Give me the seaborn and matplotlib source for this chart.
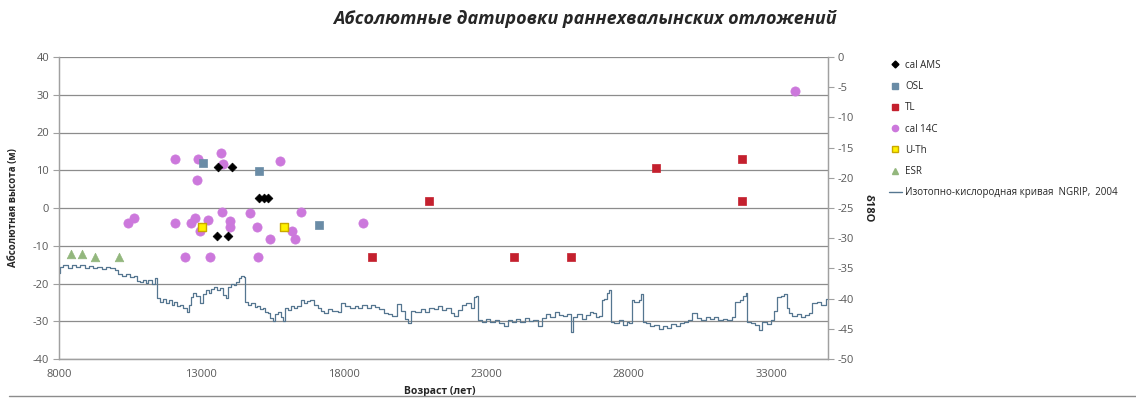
import matplotlib
matplotlib.use("Agg")
import matplotlib.pyplot as plt
import seaborn as sns
import pandas as pd
from matplotlib.lines import Line2D

# ---------------- data ----------------
title = "Абсолютные датировки раннехвалынских отложений"
xlabel = "Возраст (лет)"
ylabel = "Абсолютная высота (м)"
y2label = "δ18O"

ams_age = [13590, 14090, 15010, 15190, 15330, 13530, 13950]
ams_h = [10.9, 10.9, 2.7, 2.7, 2.7, -7.3, -7.3]

osl_age = [13040, 15020, 17140]
osl_h = [11.9, 9.9, -4.6]

tl_age = [19000, 20980, 23990, 25980, 28970, 31980, 31980]
tl_h = [-13.0, 1.9, -13.0, -13.0, 10.5, 13.1, 1.9]

c14_age = [12070, 12880, 13690, 13760, 15760, 12860, 13720, 14720, 16510,
           10630, 10410, 12090, 12650, 12770, 13240, 14010, 13990, 12940,
           14940, 16170, 15400, 16300, 18670, 12420, 13300, 15000, 33830]
c14_h = [13.0, 13.0, 14.6, 11.7, 12.5, 7.4, -1.0, -1.4, -1.0,
         -2.6, -4.0, -4.0, -4.0, -2.6, -3.1, -3.5, -5.0, -6.0,
         -5.0, -6.0, -8.1, -8.1, -4.0, -13.0, -13.0, -13.0, 31.0]

uth_age = [13010, 15910]
uth_h = [-5.0, -5.0]

esr_age = [8410, 8820, 9270, 10110]
esr_h = [-12.2, -12.2, -13.0, -13.0]

ngrip_age = [
    8000, 8040, 8150, 8300, 8450, 8600, 8750, 8900, 9050, 9200, 9350, 9500,
    9650, 9800, 9950, 10080, 10200, 10350, 10500, 10650, 10724, 10850, 10950,
    11050, 11131, 11250, 11366, 11425, 11550, 11650, 11750, 11850, 11951,
    12050, 12150, 12250, 12350, 12477, 12550, 12650, 12710, 12800, 12944,
    13050, 13150, 13250, 13354, 13450, 13550, 13650, 13750, 13850, 13937,
    14050, 14150, 14229, 14320, 14405, 14480, 14545, 14650, 14750, 14872,
    14950, 15050, 15150, 15250, 15339, 15420, 15514, 15600, 15700, 15800,
    15864, 15950, 16050, 16150, 16250, 16350, 16509, 16600, 16700, 16800,
    16950, 17100, 17210, 17300, 17450, 17600, 17794, 17900, 18050, 18200,
    18378, 18500, 18650, 18800, 18963, 19100, 19250, 19400, 19547, 19700,
    19850, 20000, 20132, 20250, 20350, 20500, 20716, 20850, 21000, 21150,
    21301, 21450, 21600, 21750, 21885, 22000, 22150, 22300, 22470, 22580,
    22645, 22704, 22850, 23000, 23150, 23300, 23450, 23639, 23750, 23900,
    24050, 24200, 24350, 24500, 24650, 24808, 24950, 25100, 25250, 25400,
    25550, 25700, 25850, 25974, 26050, 26200, 26350, 26500, 26650, 26734,
    26850, 26950, 27050, 27143, 27230, 27319, 27377, 27500, 27650, 27800,
    27950, 28020, 28120, 28195, 28350, 28450, 28488, 28600, 28750, 28900,
    29072, 29200, 29350, 29500, 29650, 29800, 29950, 30100, 30241, 30400,
    30550, 30700, 30850, 31000, 31150, 31300, 31450, 31644, 31750, 31900,
    32000, 32111, 32170, 32300, 32450, 32579, 32700, 32850, 33000, 33100,
    33200, 33350, 33456, 33560, 33631, 33750, 33900, 34050, 34200, 34333,
    34450, 34600, 34750, 34917, 35000]
ngrip_d18o = [
    -35.8, -34.8, -34.5, -34.9, -34.4, -34.8, -34.5, -34.9, -34.6, -35.0, -34.7, -35.1,
    -34.8, -35.0, -35.3, -36.0, -36.3, -36.0, -36.5, -36.3, -37.1, -37.3, -36.9,
    -37.4, -37.0, -37.5, -36.6, -39.9, -40.5, -40.0, -40.8, -40.3, -41.0,
    -40.6, -41.3, -41.0, -41.6, -42.3, -41.0, -39.8, -39.1, -39.6, -40.8,
    -39.2, -38.6, -39.0, -38.4, -38.0, -38.6, -38.2, -39.4, -39.9, -38.0,
    -37.5, -37.8, -37.2, -36.6, -36.3, -36.5, -40.5, -41.0, -40.7, -41.4,
    -41.2, -41.8, -41.5, -42.2, -42.4, -43.2, -43.7, -42.6, -42.2, -43.0,
    -43.7, -41.6, -41.9, -41.3, -41.6, -41.2, -40.2, -40.8, -40.4, -40.3,
    -41.0, -41.5, -42.0, -42.4, -41.8, -42.0, -42.2, -40.8, -41.2, -41.6,
    -41.3, -41.6, -41.0, -41.5, -41.0, -41.4, -41.8, -42.4, -42.5, -42.9,
    -40.9, -42.0, -43.4, -44.1, -42.0, -42.2, -41.8, -42.3, -41.6, -41.8,
    -41.2, -41.9, -41.5, -42.4, -42.9, -41.9, -41.0, -40.7, -41.5, -39.8,
    -39.5, -43.5, -43.8, -43.3, -43.9, -43.5, -44.0, -44.5, -43.6, -43.9,
    -43.4, -43.8, -43.2, -43.7, -43.5, -44.6, -43.2, -42.6, -43.0, -42.2,
    -42.7, -42.9, -42.5, -45.5, -43.0, -42.5, -43.3, -42.7, -42.2, -42.4,
    -43.0, -42.8, -40.3, -40.0, -39.0, -38.5, -43.8, -44.0, -43.6, -44.3,
    -43.8, -44.0, -40.2, -40.5, -40.2, -39.2, -43.8, -44.0, -44.5, -44.3,
    -45.0, -44.5, -44.8, -44.2, -44.6, -44.0, -43.8, -43.5, -42.4, -43.2,
    -43.6, -43.0, -43.4, -43.1, -43.6, -43.3, -43.5, -43.0, -40.5, -40.2,
    -39.5, -39.1, -43.8, -44.0, -44.4, -45.2, -43.8, -44.2, -43.6, -42.0,
    -39.7, -39.6, -39.2, -41.6, -42.4, -42.8, -42.6, -43.0, -42.7, -42.4,
    -40.8, -40.5, -41.0, -40.0, -40.0]

series_labels = ["cal AMS", "OSL", "TL", "cal 14C", "U-Th", "ESR",
                 "Изотопно-кислородная кривая  NGRIP,  2004"]

x_ticks = [8000, 13000, 18000, 23000, 28000, 33000]
y_ticks = [-40, -30, -20, -10, 0, 10, 20, 30, 40]
y2_ticks = [-50, -45, -40, -35, -30, -25, -20, -15, -10, -5, 0]

# ---------------- style ----------------
sns.set_style("white")
plt.rcParams["font.family"] = ["Open Sans", "DejaVu Sans"]

c_ams = "#000000"
c_osl = "#6A8CA6"
c_tl = "#C4202E"
c_c14 = "#CC78DC"
c_uth = "#FFF200"
c_uth_e = "#C9A800"
c_esr = "#93B77D"
c_line = "#557690"
grey = "#A0A0A0"
tick_c = "#595959"

fig = plt.figure(figsize=(11.36, 3.98), dpi=100)
ax = fig.add_axes([59 / 1136, 1 - 359 / 398, (828 - 59) / 1136, (359 - 57) / 398])
ax2 = ax.twinx()

# NGRIP curve on secondary axis
df_ng = pd.DataFrame({"age": ngrip_age, "d18o": ngrip_d18o})
sns.lineplot(data=df_ng, x="age", y="d18o", ax=ax2, color=c_line, lw=0.9,
             estimator=None, sort=False, drawstyle="steps-post")

def scat(xs, ys, marker, s, fc, ec, lw=0.5):
    sns.scatterplot(x=xs, y=ys, ax=ax, marker=marker, s=s, color=fc,
                    edgecolor=ec, linewidth=lw, zorder=3)

scat(c14_age, c14_h, "o", 44, c_c14, c_c14)
scat(osl_age, osl_h, "s", 32, c_osl, c_osl)
scat(tl_age, tl_h, "s", 32, c_tl, c_tl)
scat(uth_age, uth_h, "s", 34, c_uth, c_uth_e, 1.0)
scat(esr_age, esr_h, "^", 38, c_esr, c_esr)
scat(ams_age, ams_h, "D", 20, c_ams, c_ams)

ax.set_xlim(8000, 35000)
ax.set_ylim(-40, 40)
ax2.set_ylim(-50, 0)
ax.set_xticks(x_ticks)
ax.set_yticks(y_ticks)
ax2.set_yticks(y2_ticks)
ax.set_xticklabels([str(t) for t in x_ticks])
ax.set_yticklabels([str(t) for t in y_ticks])
ax2.set_yticklabels([str(t) for t in y2_ticks])

ax.yaxis.grid(True, color="#8C8C8C", lw=0.9)
ax.xaxis.grid(False)
ax.set_axisbelow(True)

for a in (ax, ax2):
    a.spines["top"].set_visible(False)
    for sp in ("left", "right", "bottom"):
        a.spines[sp].set_color(grey)
        a.spines[sp].set_linewidth(0.9)
    a.tick_params(direction="out", length=4, width=0.8, color=grey,
                  labelsize=8, labelcolor=tick_c, pad=3)

ax.set_xlabel(xlabel, fontsize=7.5, fontweight="bold", color="#262626", labelpad=1)
ax.xaxis.set_label_coords(0.495, -0.09)
ax.set_ylabel(ylabel, fontsize=7, fontweight="bold", color="#262626", labelpad=10)
ax2.set_ylabel(y2label, fontsize=8, fontweight="bold", color="#262626",
               rotation=270, va="center", ha="center")
ax2.yaxis.set_label_coords(1.052, 0.5)

fig.text(0.515, 0.953, title, ha="center", va="center", fontsize=13,
         fontstyle="italic", fontweight="bold", color="#262626")

handles = [
    Line2D([], [], ls="", marker="D", ms=3.5, color=c_ams),
    Line2D([], [], ls="", marker="s", ms=4, color=c_osl),
    Line2D([], [], ls="", marker="s", ms=4, color=c_tl),
    Line2D([], [], ls="", marker="o", ms=4.5, color=c_c14),
    Line2D([], [], ls="", marker="s", ms=4.5, mfc=c_uth, mec=c_uth_e, mew=1.0),
    Line2D([], [], ls="", marker="^", ms=4.5, color=c_esr),
    Line2D([], [], color=c_line, lw=1.0),
]
leg = fig.legend(handles, series_labels, loc="upper left",
                 bbox_to_anchor=(885 / 1136, 1 - 56 / 398), frameon=False,
                 fontsize=7, handlelength=1.3, handletextpad=0.4,
                 labelspacing=1.05, borderaxespad=0)
for t in leg.get_texts():
    t.set_color("#262626")

fig.add_artist(Line2D([0.008, 1.0], [0.004, 0.004], color="#8C8C8C", lw=1.0,
                      transform=fig.transFigure))

fig.savefig("out.png", dpi=100)
